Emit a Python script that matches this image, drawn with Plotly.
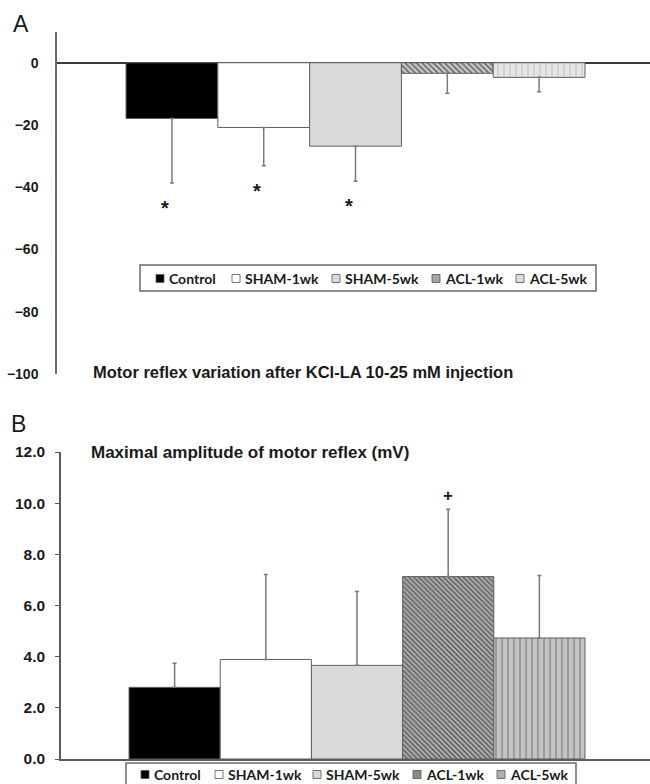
import plotly.graph_objects as go

W, H = 650, 784

groups = ["Control", "SHAM-1wk", "SHAM-5wk", "ACL-1wk", "ACL-5wk"]

# Panel A: motor reflex variation (%)
a_values = [-17.9, -20.8, -26.8, -3.4, -4.7]
a_sd = [20.7, 12.3, 11.3, 6.4, 4.6]
a_star_groups = ["Control", "SHAM-1wk", "SHAM-5wk"]
a_star_y = [-45.8, -40.2, -45.0]
a_ticks = [0, -20, -40, -60, -80, -100]

# Panel B: maximal amplitude (mV)
b_values = [2.80, 3.89, 3.66, 7.13, 4.73]
b_sd = [0.94, 3.32, 2.89, 2.63, 2.44]
b_plus_group = "ACL-1wk"
b_plus_y = 10.3
b_ticks = [0, 2, 4, 6, 8, 10, 12]
b_ticktext = ["0.0", "2.0", "4.0", "6.0", "8.0", "10.0", "12.0"]

styles_a = [
    dict(color="#000000"),
    dict(color="#ffffff"),
    dict(color="#d9d9d9"),
    dict(color="#b8b8b8", pattern=dict(shape="\\", fgcolor="#666666", bgcolor="#cccccc", size=4, solidity=0.4)),
    dict(color="#e2e2e2", pattern=dict(shape="|", fgcolor="#d0d0d0", bgcolor="#e6e6e6", size=6, solidity=0.3)),
]
styles_b = [
    dict(color="#000000"),
    dict(color="#ffffff"),
    dict(color="#d9d9d9"),
    dict(color="#9a9a9a", pattern=dict(shape="\\", fgcolor="#555555", bgcolor="#b0b0b0", size=3.5, solidity=0.4)),
    dict(color="#b0b0b0", pattern=dict(shape="|", fgcolor="#9c9c9c", bgcolor="#c4c4c4", size=6, solidity=0.35)),
]
# legend swatch colours (small squares, pattern not visible at that size)
swatch_a = ["#000000", "#ffffff", "#d9d9d9", "#a4a4a4", "#dcdcdc"]
swatch_b = ["#000000", "#ffffff", "#d9d9d9", "#8a8a8a", "#aeaeae"]

fig = go.Figure()

for g, v, s, st in zip(groups, a_values, a_sd, styles_a):
    fig.add_trace(go.Bar(
        x=[g], y=[v], name=g, width=1.0, showlegend=False,
        marker=dict(line=dict(color="#606060", width=1), **st),
        error_y=dict(type="data", symmetric=False, array=[0], arrayminus=[s],
                     color="#7a7a7a", thickness=1.5, width=2),
        xaxis="x", yaxis="y",
    ))

for g, v, s, st in zip(groups, b_values, b_sd, styles_b):
    fig.add_trace(go.Bar(
        x=[g], y=[v], name=g, width=1.0, showlegend=False,
        marker=dict(line=dict(color="#606060", width=1), **st),
        error_y=dict(type="data", symmetric=False, array=[s], arrayminus=[0],
                     color="#7a7a7a", thickness=1.5, width=2),
        xaxis="x2", yaxis="y2",
    ))


def px(pix):
    return pix / W


def py(pix):
    return 1 - pix / H


tickfont_a = dict(family="Liberation Sans, Arial, sans-serif", size=14, color="#1a1a1a", weight="bold")
tickfont_b = dict(family="Liberation Sans, Arial, sans-serif", size=15.5, color="#1a1a1a", weight="bold")
legfont = dict(family="Lato, Open Sans, sans-serif", size=14, color="#1a1a1a", weight="bold")

fig.update_layout(
    template="none",
    width=W, height=H,
    margin=dict(l=0, r=0, t=0, b=0, pad=0, autoexpand=False),
    paper_bgcolor="white", plot_bgcolor="white",
    barmode="overlay", showlegend=False,
    xaxis=dict(domain=[px(57), 1.0], type="category", categoryarray=groups, automargin=False,
               range=[-1.252, 5.208], showline=False, showticklabels=False,
               ticks="", showgrid=False, zeroline=False, anchor="y"),
    yaxis=dict(domain=[py(374), py(31.6)], range=[-100, 10], tickvals=a_ticks, automargin=False,
               showline=True, linecolor="#6a6a6a", linewidth=1.5,
               zeroline=True, zerolinecolor="#3a3a3a", zerolinewidth=1.5,
               showgrid=False, ticks="", ticklabelstandoff=14, tickfont=tickfont_a,
               anchor="x"),
    xaxis2=dict(domain=[px(61), 1.0], type="category", categoryarray=groups, automargin=False,
                range=[-1.246, 5.213], showline=True, linecolor="#5a5a5a", linewidth=1.5,
                showticklabels=False, ticks="", showgrid=False, zeroline=False, anchor="y2"),
    yaxis2=dict(domain=[py(759), py(452)], range=[0, 12], tickvals=b_ticks, ticktext=b_ticktext,
                automargin=False, showline=True, linecolor="#5a5a5a", linewidth=1.5,
                ticks="outside", ticklen=4, tickcolor="#5a5a5a", tickwidth=1.2,
                ticklabelstandoff=7, showgrid=False, zeroline=False, tickfont=tickfont_b,
                anchor="x2"),
)

# ---- custom legends (box, swatches, labels) ----
legend_a = dict(box=(140, 265, 596, 291), sw_x=[156, 232, 332, 432, 516], sw_y=(274.5, 282.5),
                tx=[167, 243, 343, 443, 527], ty=278.5)
legend_b = dict(box=(126, 763, 576, 795), sw_x=[141, 215, 313, 413, 497], sw_y=(770.5, 778.5),
                tx=[152, 226, 324, 424, 508], ty=774.5)

shapes = []
ann = []
for leg, sw in ((legend_a, swatch_a), (legend_b, swatch_b)):
    x0, y0, x1, y1 = leg["box"]
    shapes.append(dict(type="rect", xref="paper", yref="paper", x0=px(x0), x1=px(x1), y0=py(y0), y1=py(y1),
                       line=dict(color="#6a6a6a", width=1.5), fillcolor="white", layer="above"))
    for g, c, sx, tx in zip(groups, sw, leg["sw_x"], leg["tx"]):
        shapes.append(dict(type="rect", xref="paper", yref="paper", x0=px(sx), x1=px(sx + 8),
                           y0=py(leg["sw_y"][0]), y1=py(leg["sw_y"][1]),
                           line=dict(color="#555555", width=0.8), fillcolor=c, layer="above"))
        ann.append(dict(text=g, x=px(tx), y=py(leg["ty"]), xref="paper", yref="paper",
                        xanchor="left", yanchor="middle", showarrow=False, font=legfont))

title_font_a = dict(family="Liberation Sans, Arial, sans-serif", size=16.5, color="#1a1a1a", weight="bold")
title_font_b = dict(family="Liberation Sans, Arial, sans-serif", size=17, color="#1a1a1a", weight="bold")
ann.append(dict(text="A", x=px(11), y=py(24), xref="paper", yref="paper", xanchor="left", yanchor="middle",
                showarrow=False, font=dict(family="Liberation Sans, Arial, sans-serif", size=23, color="#1a1a1a")))
ann.append(dict(text="B", x=px(9), y=py(424), xref="paper", yref="paper", xanchor="left", yanchor="middle",
                showarrow=False, font=dict(family="Liberation Sans, Arial, sans-serif", size=23, color="#1a1a1a")))
ann.append(dict(text="Motor reflex variation after KCl-LA 10-25 mM injection", x=px(91), y=py(372),
                xref="paper", yref="paper", xanchor="left", yanchor="middle", showarrow=False, font=title_font_a))
ann.append(dict(text="Maximal amplitude of motor reflex (mV)", x=px(89), y=py(453),
                xref="paper", yref="paper", xanchor="left", yanchor="middle", showarrow=False, font=title_font_b))
for g, yv in zip(a_star_groups, a_star_y):
    ann.append(dict(text="*", x=g, y=yv, xref="x", yref="y", xshift=-7, yshift=-3, showarrow=False,
                    xanchor="center", yanchor="middle",
                    font=dict(family="Liberation Sans, Arial, sans-serif", size=20, color="#1a1a1a", weight="bold")))
ann.append(dict(text="+", x=b_plus_group, y=b_plus_y, xref="x2", yref="y2", showarrow=False,
                xanchor="center", yanchor="middle",
                font=dict(family="Liberation Sans, Arial, sans-serif", size=17, color="#1a1a1a", weight="bold")))
fig.update_layout(annotations=ann, shapes=shapes)

post = (
    "document.documentElement.style.margin='0';document.documentElement.style.padding='0';"
    "document.body.style.margin='0';document.body.style.padding='0';"
    "document.documentElement.style.overflow='hidden';document.body.style.overflow='hidden';"
    "var gd=document.getElementById('{plot_id}');gd.style.position='fixed';gd.style.left='0px';gd.style.top='0px';"
)
fig.write_html("out.html", config={"displayModeBar": False, "responsive": False}, post_script=post)
